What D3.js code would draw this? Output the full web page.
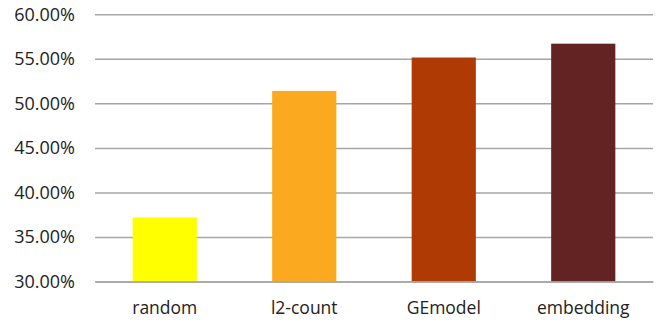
<!DOCTYPE html>
<html><head><meta charset="utf-8">
<script src="https://cdn.jsdelivr.net/npm/d3@7"></script>
<style>body{margin:0;background:#fff;} svg{display:block;}</style>
</head><body>
<svg id="c" width="657" height="325"></svg>
<script>
const categories = ["random", "l2-count", "GEmodel", "embedding"];
const values = [37.2, 51.4, 55.15, 56.7];
const colors = ["#FFFF00", "#FBA91F", "#AF3A03", "#632323"];
const yTicks = [30, 35, 40, 45, 50, 55, 60];

const svg = d3.select("#c");
const m = {left: 95, right: 4, top: 14.3, bottom: 43.5};
const W = 657, H = 325;
const x = d3.scaleBand().domain(categories).range([m.left, W - m.right]).paddingInner(0.54).paddingOuter(0.27);
const y = d3.scaleLinear().domain([30, 60]).range([H - m.bottom, m.top]);
const font = "'Open Sans', sans-serif";

const g = svg.append("g").attr("class", "grid")
  .attr("transform", `translate(${m.left},0)`)
  .call(d3.axisLeft(y).tickValues(yTicks).tickSize(-(W - m.right - m.left)).tickPadding(20)
    .tickFormat(d => d.toFixed(2) + "%"));
g.select(".domain").remove();
g.selectAll(".tick line").attr("stroke", "#A6A6A6").attr("stroke-width", 1.5);
g.selectAll(".tick text").attr("font-family", font).attr("font-size", 18).attr("fill", "#222");

svg.append("g").selectAll("rect").data(categories).join("rect")
  .attr("x", d => x(d)).attr("width", x.bandwidth())
  .attr("y", (d, i) => y(values[i])).attr("height", (d, i) => y(30) - y(values[i]))
  .attr("fill", (d, i) => colors[i]);

const xa = svg.append("g").attr("transform", `translate(0,${y(30)})`)
  .call(d3.axisBottom(x).tickSize(0).tickPadding(20));
xa.select(".domain").attr("stroke", "#A6A6A6").attr("stroke-width", 1.5);
xa.selectAll(".tick text").attr("font-family", font).attr("font-size", 17.5).attr("fill", "#222");
</script>
</body></html>
